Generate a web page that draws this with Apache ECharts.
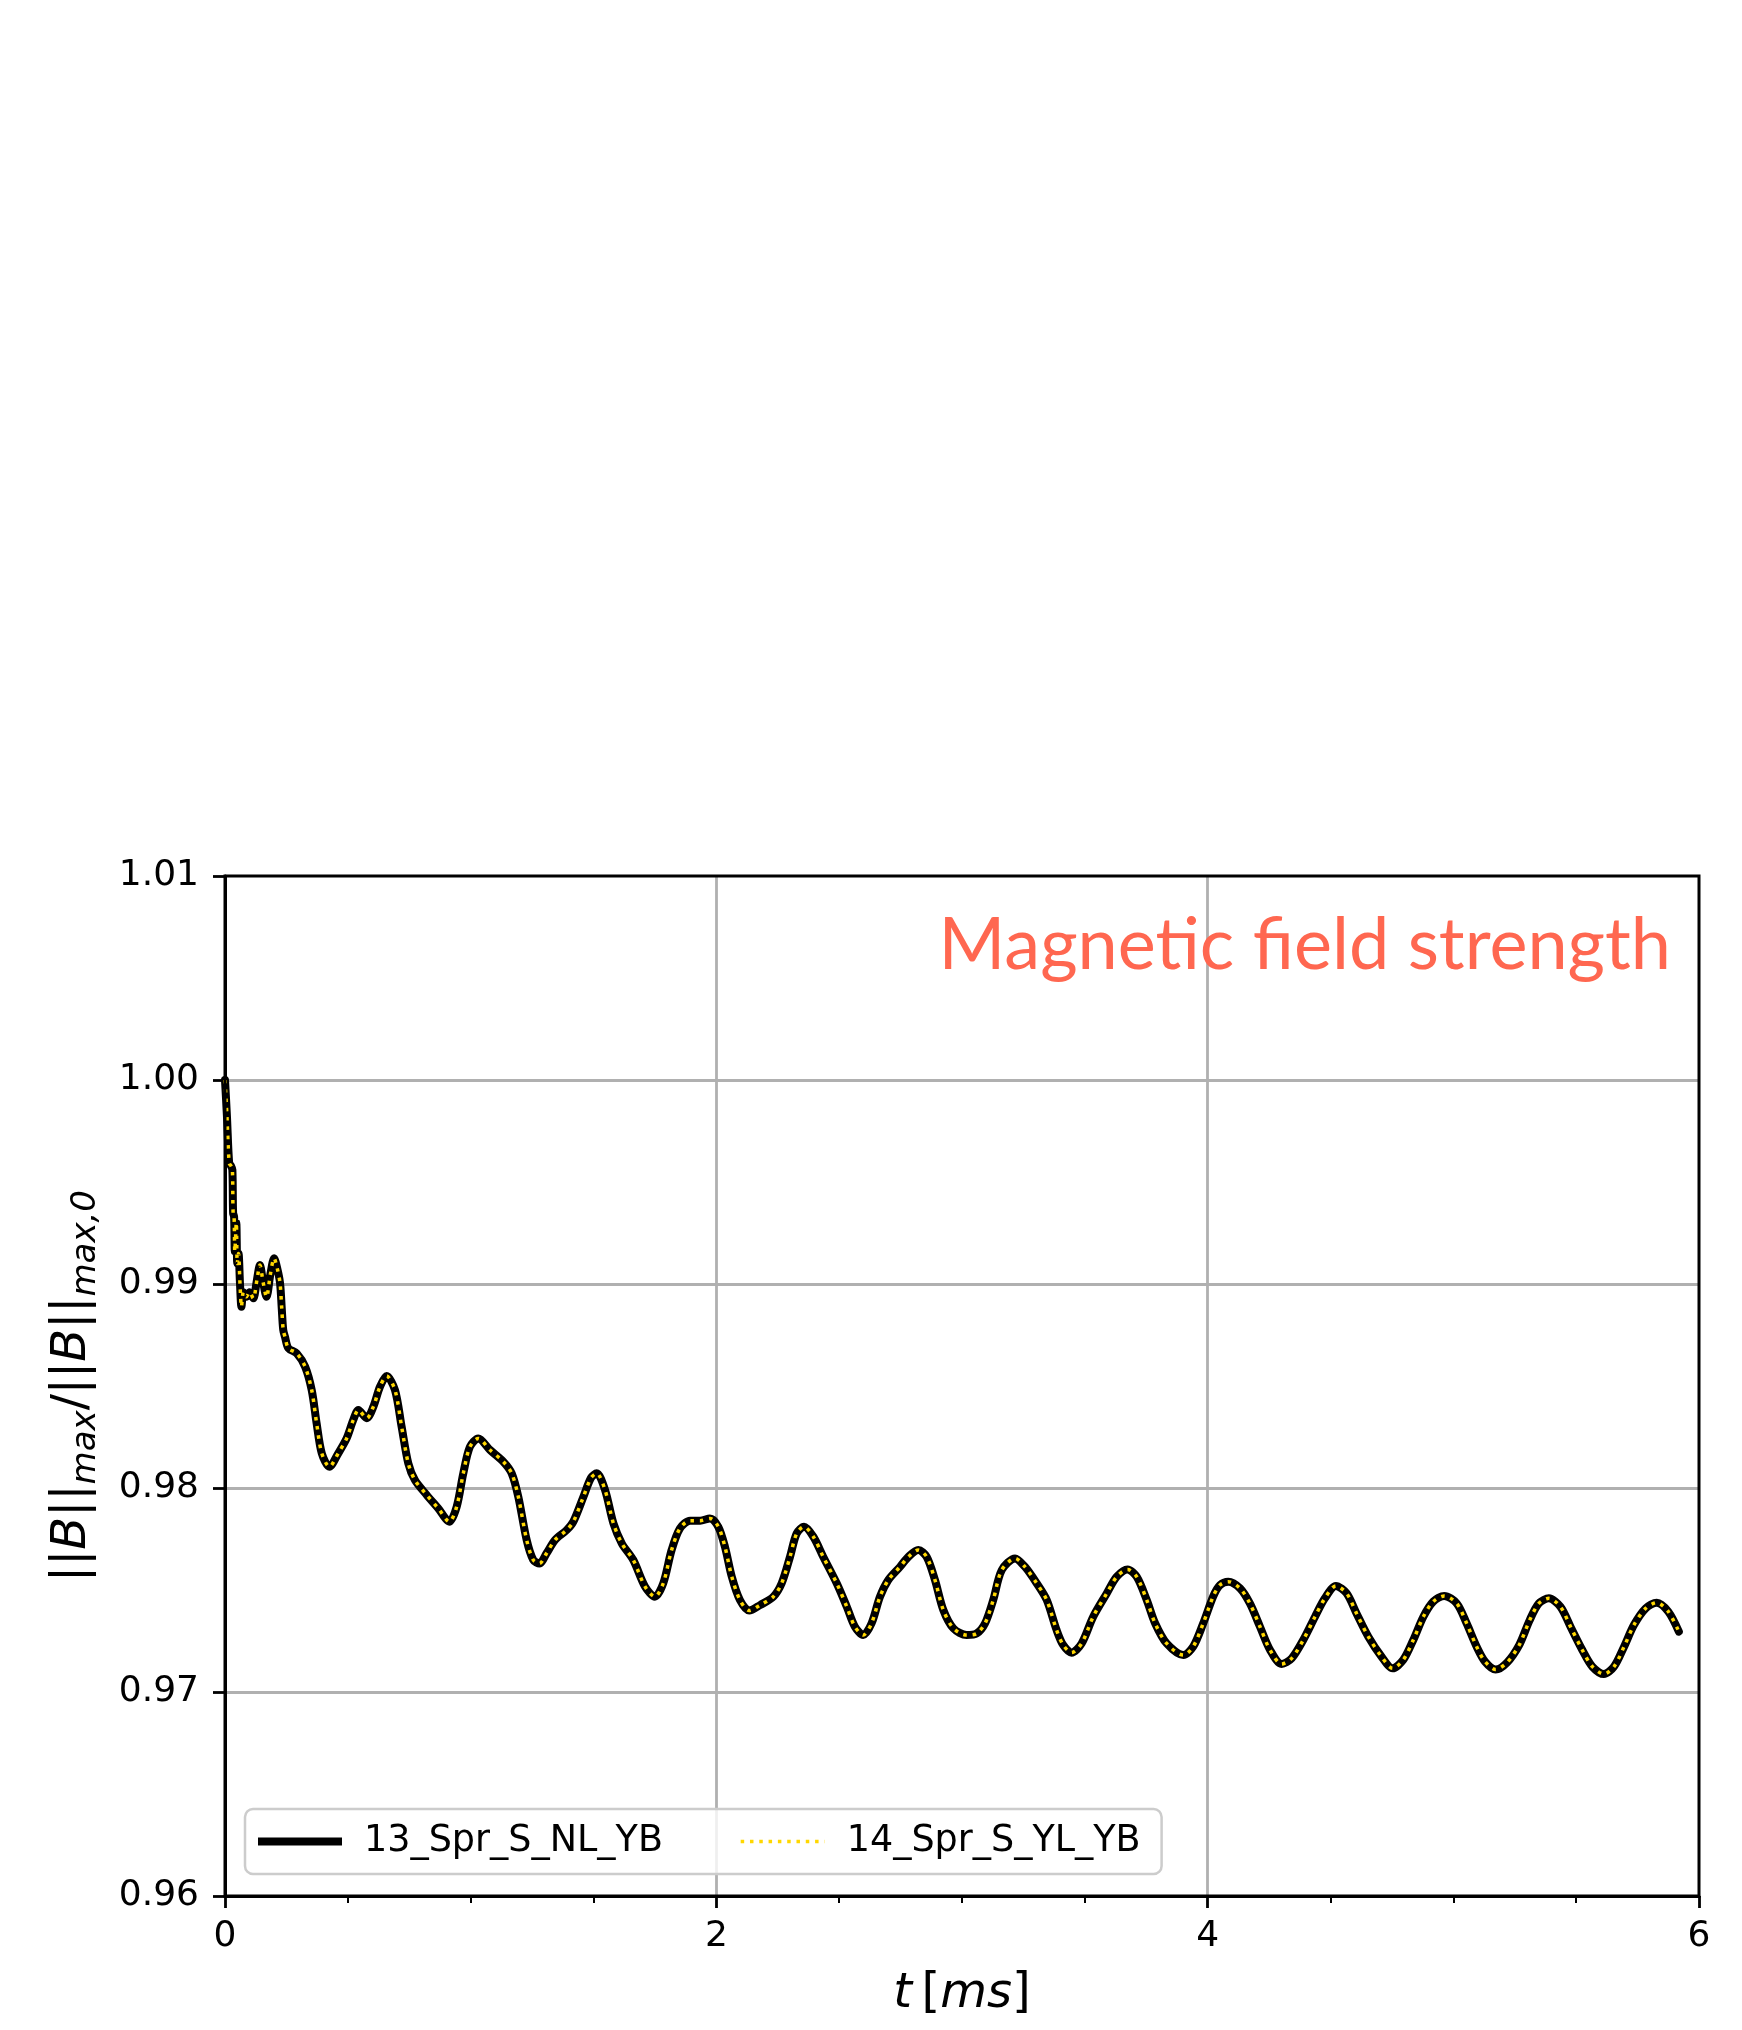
<!DOCTYPE html>
<html>
<head>
<meta charset="utf-8">
<script src="https://cdn.jsdelivr.net/npm/echarts@6/dist/echarts.min.js"></script>
<style>
html,body{margin:0;padding:0;background:#fff;}
#chart{width:1742px;height:2030px;}
</style>
</head>
<body>
<div id="chart"></div>
<script>
// ---- data ----
const timeMs = [0.000,0.008,0.017,0.024,0.030,0.033,0.037,0.040,0.046,0.050,0.055,0.061,0.067,0.075,0.087,0.100,0.115,0.130,0.142,0.155,0.169,0.185,0.200,0.212,0.224,0.231,0.237,0.244,0.258,0.292,0.326,0.353,0.373,0.394,0.425,0.461,0.495,0.522,0.543,0.577,0.604,0.631,0.658,0.692,0.719,0.746,0.773,0.821,0.868,0.913,0.943,0.970,0.997,1.031,1.079,1.133,1.167,1.194,1.228,1.255,1.280,1.309,1.343,1.391,1.418,1.459,1.490,1.513,1.547,1.581,1.615,1.662,1.710,1.750,1.784,1.818,1.852,1.893,1.934,1.974,2.008,2.035,2.063,2.096,2.134,2.178,2.232,2.266,2.300,2.327,2.357,2.395,2.435,2.490,2.531,2.564,2.598,2.632,2.666,2.700,2.748,2.782,2.822,2.856,2.890,2.924,2.965,3.019,3.060,3.094,3.127,3.162,3.216,3.256,3.304,3.345,3.385,3.412,3.446,3.487,3.534,3.589,3.630,3.674,3.711,3.752,3.786,3.833,3.901,3.941,3.982,4.023,4.050,4.084,4.132,4.172,4.213,4.254,4.301,4.342,4.389,4.437,4.477,4.522,4.566,4.606,4.654,4.708,4.753,4.796,4.837,4.878,4.918,4.963,5.014,5.054,5.095,5.129,5.172,5.219,5.268,5.310,5.348,5.389,5.436,5.477,5.525,5.566,5.613,5.654,5.695,5.735,5.783,5.828,5.875,5.918];

const bNorm13 = [1.00000,0.99820,0.99592,0.99580,0.99560,0.99348,0.99330,0.99160,0.99300,0.99100,0.99150,0.99003,0.98889,0.98960,0.98937,0.98960,0.98930,0.99020,0.99093,0.99010,0.98937,0.99050,0.99126,0.99080,0.99005,0.98880,0.98775,0.98742,0.98685,0.98660,0.98595,0.98480,0.98317,0.98170,0.98104,0.98170,0.98243,0.98333,0.98382,0.98342,0.98399,0.98497,0.98549,0.98480,0.98300,0.98121,0.98039,0.97966,0.97900,0.97835,0.97908,0.98072,0.98202,0.98243,0.98186,0.98129,0.98072,0.97957,0.97745,0.97647,0.97630,0.97680,0.97745,0.97794,0.97835,0.97957,0.98050,0.98072,0.97990,0.97827,0.97729,0.97647,0.97516,0.97467,0.97533,0.97696,0.97802,0.97840,0.97840,0.97851,0.97810,0.97712,0.97565,0.97451,0.97399,0.97426,0.97467,0.97533,0.97663,0.97777,0.97810,0.97761,0.97663,0.97533,0.97418,0.97320,0.97279,0.97337,0.97467,0.97549,0.97614,0.97663,0.97696,0.97663,0.97549,0.97402,0.97312,0.97279,0.97287,0.97337,0.97451,0.97598,0.97655,0.97614,0.97533,0.97451,0.97304,0.97230,0.97193,0.97238,0.97369,0.97483,0.97565,0.97601,0.97565,0.97451,0.97337,0.97238,0.97181,0.97222,0.97337,0.97470,0.97524,0.97541,0.97508,0.97434,0.97320,0.97206,0.97137,0.97165,0.97255,0.97369,0.97459,0.97520,0.97483,0.97385,0.97271,0.97173,0.97116,0.97157,0.97255,0.97369,0.97443,0.97471,0.97434,0.97337,0.97222,0.97149,0.97110,0.97145,0.97230,0.97350,0.97434,0.97459,0.97418,0.97320,0.97206,0.97124,0.97088,0.97124,0.97222,0.97328,0.97410,0.97438,0.97394,0.97296];

const bNorm14 = [1.00000,0.99820,0.99592,0.99580,0.99560,0.99348,0.99330,0.99160,0.99300,0.99100,0.99150,0.99003,0.98889,0.98960,0.98937,0.98960,0.98930,0.99020,0.99093,0.99010,0.98937,0.99050,0.99126,0.99080,0.99005,0.98880,0.98775,0.98742,0.98685,0.98660,0.98595,0.98480,0.98317,0.98170,0.98104,0.98170,0.98243,0.98333,0.98382,0.98342,0.98399,0.98497,0.98549,0.98480,0.98300,0.98121,0.98039,0.97966,0.97900,0.97835,0.97908,0.98072,0.98202,0.98243,0.98186,0.98129,0.98072,0.97957,0.97745,0.97647,0.97630,0.97680,0.97745,0.97794,0.97835,0.97957,0.98050,0.98072,0.97990,0.97827,0.97729,0.97647,0.97516,0.97467,0.97533,0.97696,0.97802,0.97840,0.97840,0.97851,0.97810,0.97712,0.97565,0.97451,0.97399,0.97426,0.97467,0.97533,0.97663,0.97777,0.97810,0.97761,0.97663,0.97533,0.97418,0.97320,0.97279,0.97337,0.97467,0.97549,0.97614,0.97663,0.97696,0.97663,0.97549,0.97402,0.97312,0.97279,0.97287,0.97337,0.97451,0.97598,0.97655,0.97614,0.97533,0.97451,0.97304,0.97230,0.97193,0.97238,0.97369,0.97483,0.97565,0.97601,0.97565,0.97451,0.97337,0.97238,0.97181,0.97222,0.97337,0.97470,0.97524,0.97541,0.97508,0.97434,0.97320,0.97206,0.97137,0.97165,0.97255,0.97369,0.97459,0.97520,0.97483,0.97385,0.97271,0.97173,0.97116,0.97157,0.97255,0.97369,0.97443,0.97471,0.97434,0.97337,0.97222,0.97149,0.97110,0.97145,0.97230,0.97350,0.97434,0.97459,0.97418,0.97320,0.97206,0.97124,0.97088,0.97124,0.97222,0.97328,0.97410,0.97438,0.97394,0.97296];

const seriesNames = ['13_Spr_S_NL_YB', '14_Spr_S_YL_YB'];
const xTicks = [0, 2, 4, 6];
const yTicks = [0.96, 0.97, 0.98, 0.99, 1.00, 1.01];
const titleText = 'Magnetic field strength';

// ---- chart ----
const chart = echarts.init(document.getElementById('chart'), null, {renderer: 'canvas'});
const tickFont = 'DejaVu Sans';
const solidStyle = {color: '#000000', width: 8, join: 'round', cap: 'round', type: 'solid'};
const solidLegendStyle = {color: '#000000', width: 8, cap: 'butt', type: 'solid'};
const dotStyle = {color: '#ffd700', width: 3.5, type: [3.5, 5.8], cap: 'butt'};

const option = {
  animation: false,
  backgroundColor: '#ffffff',
  grid: {
    left: 225, right: 43, top: 876, bottom: 134,
    show: true, borderColor: '#000', borderWidth: 3, z: 5,
    containLabel: false, outerBoundsMode: 'none'
  },
  xAxis: {
    type: 'value',
    min: xTicks[0], max: xTicks[xTicks.length - 1], interval: xTicks[1] - xTicks[0],
    axisLine: {show: true, lineStyle: {color: '#000', width: 3}},
    axisTick: {show: true, inside: false, length: 12, lineStyle: {color: '#000', width: 2.8}},
    minorTick: {show: true, splitNumber: 4, length: 7, lineStyle: {color: '#000', width: 2}},
    splitLine: {show: true, showMinLine: false, showMaxLine: false, lineStyle: {color: '#b0b0b0', width: 2.8}},
    axisLabel: {color: '#000', fontFamily: tickFont, fontSize: 36, margin: 23,
      formatter: v => String(v)},
    name: '{i|t}{n|\u2009[}{i|ms}{n|]}',
    nameLocation: 'middle', nameGap: 71,
    nameTextStyle: {
      color: '#000',
      rich: {
        i: {fontFamily: 'DejaVu Sans', fontStyle: 'italic', fontSize: 48, color: '#000', lineHeight: 56},
        n: {fontFamily: 'DejaVu Sans', fontSize: 48, color: '#000', lineHeight: 56}
      }
    }
  },
  yAxis: {
    type: 'value',
    min: yTicks[0], max: yTicks[yTicks.length - 1], interval: 0.01,
    axisLine: {show: true, lineStyle: {color: '#000', width: 3}},
    axisTick: {show: true, inside: false, length: 12, lineStyle: {color: '#000', width: 2.8}},
    splitLine: {show: true, showMinLine: false, showMaxLine: false, lineStyle: {color: '#b0b0b0', width: 2.8}},
    axisLabel: {color: '#000', fontFamily: tickFont, fontSize: 36, margin: 26,
      formatter: v => v.toFixed(2)},
    name: '{n|||}{i|B}{n|||}{s|max}{n|/||}{i|B}{n|||}{s|max,0}',
    nameLocation: 'middle', nameGap: 122, nameRotate: 90,
    nameTextStyle: {
      color: '#000',
      rich: {
        n: {fontFamily: 'DejaVu Sans', fontSize: 48, color: '#000', lineHeight: 60},
        i: {fontFamily: 'DejaVu Sans', fontStyle: 'italic', fontSize: 48, color: '#000', lineHeight: 60},
        s: {fontFamily: 'DejaVu Sans', fontStyle: 'italic', fontSize: 34, color: '#000', lineHeight: 28, verticalAlign: 'bottom'}
      }
    }
  },
  legend: {
    show: true,
    left: 245, top: 1809,
    orient: 'horizontal',
    itemWidth: 84, itemHeight: 2, itemGap: 76,
    padding: [14, 21, 14, 9],
    borderColor: '#cccccc', borderWidth: 2.5, borderRadius: 8,
    backgroundColor: 'rgba(255,255,255,0.8)',
    textStyle: {fontFamily: 'DejaVu Sans', fontSize: 36.5, color: '#000', padding: [0, 0, 0, 17]},
    data: [
      {name: seriesNames[0], lineStyle: solidLegendStyle, itemStyle: {opacity: 0}},
      {name: seriesNames[1], lineStyle: dotStyle, itemStyle: {opacity: 0}}
    ]
  },
  graphic: [{
    type: 'text',
    z: 100,
    style: {
      text: titleText,
      x: 1671, y: 946,
      align: 'right', verticalAlign: 'middle',
      textAlign: 'right', textVerticalAlign: 'middle',
      font: '72px Lato',
      fill: '#ff6750'
    }
  }],
  series: [
    {
      name: seriesNames[0],
      type: 'line',
      data: timeMs.map((t, i) => [t, bNorm13[i]]),
      symbol: 'none',
      smooth: 0.3,
      z: 2,
      itemStyle: {color: '#000000'},
      lineStyle: solidStyle
    },
    {
      name: seriesNames[1],
      type: 'line',
      data: timeMs.map((t, i) => [t, bNorm14[i]]),
      symbol: 'none',
      smooth: 0.3,
      z: 3,
      itemStyle: {color: '#ffd700'},
      lineStyle: dotStyle
    }
  ]
};
chart.setOption(option);
</script>
</body>
</html>
